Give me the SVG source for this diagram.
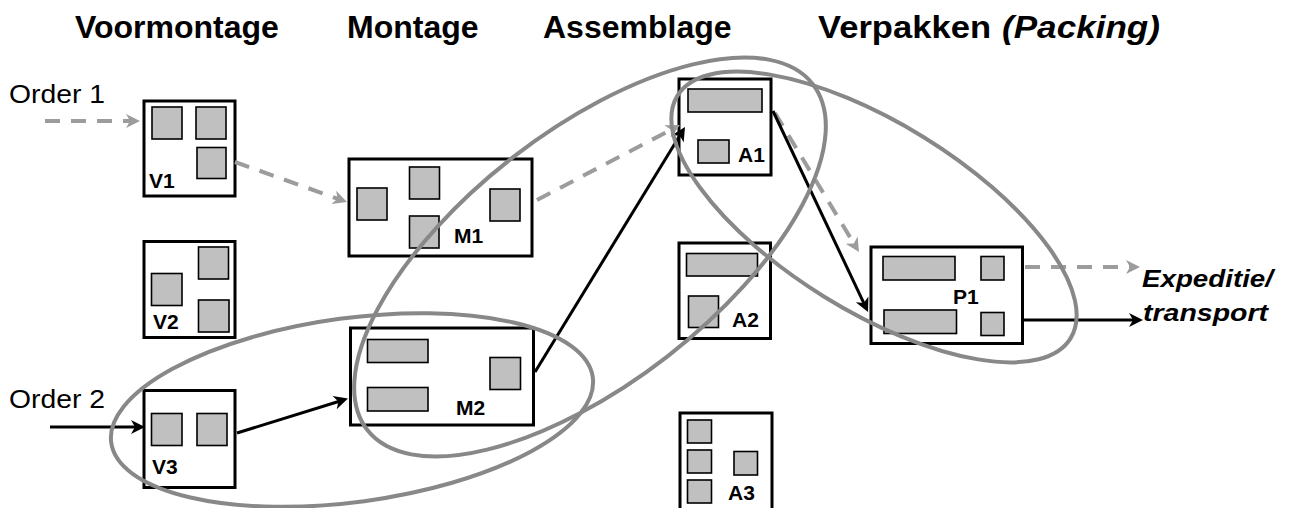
<svg xmlns="http://www.w3.org/2000/svg" width="1294" height="508" viewBox="0 0 1294 508">
<style>
text{font-family:"Liberation Sans",Arial,Helvetica,sans-serif;fill:#000}
.title{font-size:32px;font-weight:bold}
.order{font-size:26px}
.lbl{font-size:21px;font-weight:bold}
.exp{font-size:24px;font-weight:bold;font-style:italic}
.box{fill:#fff;stroke:#000;stroke-width:3}
.part{fill:#c0c0c0;stroke:#000;stroke-width:1.6}
.flow1{fill:none;stroke:#9c9c9c;stroke-width:4;stroke-dasharray:15 11;marker-end:url(#ag)}
.flow2{fill:none;stroke:#000;stroke-width:3;marker-end:url(#ab)}
.grp{fill:none;stroke:#888;stroke-width:4}
</style>
<defs>
<marker id="ag" viewBox="-15 -8 16 16" markerWidth="16" markerHeight="16" refX="-9" refY="0" orient="auto" markerUnits="userSpaceOnUse">
<path d="M0,0 L-14,-7 L-10,0 L-14,7 Z" fill="#9c9c9c"/>
</marker>
<marker id="ab" viewBox="-15 -8 16 16" markerWidth="16" markerHeight="16" refX="-9" refY="0" orient="auto" markerUnits="userSpaceOnUse">
<path d="M0,0 L-14,-7 L-10,0 L-14,7 Z" fill="#000"/>
</marker>
</defs>

<g id="titles">
<text class="title" x="75" y="38">Voormontage</text>
<text class="title" x="347" y="38">Montage</text>
<text class="title" x="543" y="38">Assemblage</text>
<text class="title" x="818" y="38" textLength="173" lengthAdjust="spacingAndGlyphs">Verpakken</text>
<text class="title" x="1002" y="38" font-style="italic" textLength="158" lengthAdjust="spacingAndGlyphs">(Packing)</text>
</g>

<g id="V1">
<rect class="box" x="144" y="101" width="91" height="95"/>
<rect class="part" x="152" y="107" width="30" height="32"/>
<rect class="part" x="196" y="107" width="30" height="32"/>
<rect class="part" x="197" y="147.5" width="29" height="31"/>
<text class="lbl" x="149" y="188">V1</text>
</g>
<g id="V2">
<rect class="box" x="144" y="241.5" width="91" height="96"/>
<rect class="part" x="151.5" y="273.5" width="30.5" height="32"/>
<rect class="part" x="198.5" y="247" width="30" height="32"/>
<rect class="part" x="198.5" y="300" width="30.5" height="32"/>
<text class="lbl" x="153" y="329">V2</text>
</g>
<g id="V3">
<rect class="box" x="144" y="390.5" width="91" height="97"/>
<rect class="part" x="151.5" y="413.5" width="30.5" height="32"/>
<rect class="part" x="197" y="413.5" width="30" height="32"/>
<text class="lbl" x="152" y="474">V3</text>
</g>
<g id="M1">
<rect class="box" x="349" y="159" width="183" height="97"/>
<rect class="part" x="357" y="188" width="30" height="32"/>
<rect class="part" x="409.5" y="167" width="30" height="32"/>
<rect class="part" x="409.5" y="216" width="29.5" height="32"/>
<rect class="part" x="490" y="189" width="30" height="32"/>
<text class="lbl" x="454" y="243">M1</text>
</g>
<g id="M2">
<rect class="box" x="350.5" y="328" width="183" height="97"/>
<rect class="part" x="367.5" y="339.5" width="60.5" height="23"/>
<rect class="part" x="367.5" y="387.5" width="60.5" height="23.5"/>
<rect class="part" x="490" y="357.5" width="30.5" height="32"/>
<text class="lbl" x="456" y="415">M2</text>
</g>
<g id="A1">
<rect class="box" x="679" y="79" width="92" height="96"/>
<rect class="part" x="688" y="89" width="74" height="23"/>
<rect class="part" x="698" y="140" width="31" height="23"/>
<text class="lbl" x="738" y="162">A1</text>
</g>
<g id="A2">
<rect class="box" x="679" y="243" width="91.5" height="95.5"/>
<rect class="part" x="686.5" y="253.5" width="71" height="22.5"/>
<rect class="part" x="688.5" y="296" width="30" height="31.5"/>
<text class="lbl" x="732" y="327">A2</text>
</g>
<g id="A3">
<rect class="box" x="680" y="413" width="92" height="100"/>
<rect class="part" x="687.5" y="420" width="24" height="23"/>
<rect class="part" x="687.5" y="450" width="24" height="23"/>
<rect class="part" x="687.5" y="480" width="24" height="23"/>
<rect class="part" x="734" y="451.5" width="23.5" height="23.5"/>
<text class="lbl" x="728" y="500">A3</text>
</g>
<g id="P1">
<rect class="box" x="871" y="247" width="151.5" height="96.5"/>
<rect class="part" x="883" y="256.5" width="72" height="23.5"/>
<rect class="part" x="981" y="256.5" width="23" height="23.5"/>
<rect class="part" x="884" y="310" width="72.5" height="23.5"/>
<rect class="part" x="981" y="312.5" width="23" height="23"/>
<text class="lbl" x="953" y="304">P1</text>
</g>

<g id="order1">
<text class="order" x="9" y="103" textLength="96" lengthAdjust="spacingAndGlyphs">Order 1</text>
</g>
<g id="order2">
<text class="order" x="9" y="408" textLength="96" lengthAdjust="spacingAndGlyphs">Order 2</text>
</g>
<g id="expeditie">
<text class="exp" x="1142" y="287" textLength="131" lengthAdjust="spacingAndGlyphs">Expeditie/</text>
<text class="exp" x="1143" y="321" textLength="125" lengthAdjust="spacingAndGlyphs">transport</text>
</g>

<g id="connectors">
<line class="flow1" x1="45" y1="121" x2="131" y2="121"/>
<line class="flow1" x1="235" y1="162" x2="338.5" y2="199"/>
<line class="flow1" x1="537" y1="200" x2="672" y2="129.2"/>
<line class="flow1" x1="775" y1="113" x2="854.3" y2="244.3"/>
<line class="flow1" x1="1025" y1="267" x2="1131" y2="267"/>
<line class="flow2" x1="50" y1="427" x2="136" y2="427"/>
<line class="flow2" x1="237" y1="433" x2="339.4" y2="401.2"/>
<line class="flow2" x1="535" y1="372" x2="680.3" y2="134.7"/>
<line class="flow2" x1="773" y1="111" x2="864.2" y2="303.9"/>
<line class="flow2" x1="1024" y1="320" x2="1134" y2="320"/>
</g>

<g id="groupings">
<ellipse class="grp" cx="0" cy="0" rx="243" ry="92" transform="translate(352 410) rotate(-7.7)"/>
<ellipse class="grp" cx="0" cy="0" rx="282" ry="126" transform="translate(590 257) rotate(-37.8)"/>
<ellipse class="grp" cx="0" cy="0" rx="231" ry="94" transform="translate(874 217) rotate(31.7)"/>
</g>
</svg>
